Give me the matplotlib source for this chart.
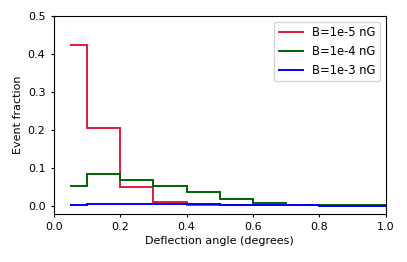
import matplotlib
matplotlib.use("Agg")
import matplotlib.pyplot as plt
import numpy as np

edges = [0.05, 0.1, 0.2, 0.3, 0.4, 0.5, 0.6, 0.7, 0.8, 0.9, 1.0]
red_vals = [0.425, 0.205, 0.050, 0.010, 0.002, 0.002, 0.003, 0.003, 0.004, 0.004]
green_vals = [0.052, 0.085, 0.068, 0.053, 0.036, 0.018, 0.009, 0.003, 0.002, 0.002]
blue_vals = [0.003, 0.005, 0.007, 0.006, 0.005, 0.003, 0.002, 0.002, 0.001, 0.001]
labels = ["B=1e-5 nG", "B=1e-4 nG", "B=1e-3 nG"]
colors = ["#e0193f", "#006400", "#0000ff"]

plt.rcParams['font.size'] = 8
fig = plt.figure(figsize=(4.07, 2.62), dpi=100)
ax = fig.add_axes([0.132, 0.184, 0.816, 0.755])
for vals, lab, c in zip([red_vals, green_vals, blue_vals], labels, colors):
    ax.stairs(vals, edges, color=c, linewidth=1.4, label=lab, baseline=None)
ax.set_xlim(0, 1.0)
ax.set_ylim(-0.02, 0.5)
ax.set_xticks([0.0, 0.2, 0.4, 0.6, 0.8, 1.0])
ax.set_yticks([0.0, 0.1, 0.2, 0.3, 0.4, 0.5])
ax.tick_params(length=2.5, width=0.8)
for s in ax.spines.values():
    s.set_linewidth(0.8)
ax.set_xlabel("Deflection angle (degrees)", labelpad=3)
ax.set_ylabel("Event fraction", labelpad=3)
ax.legend(loc="upper right", fontsize=8.3, handlelength=2.1)
fig.savefig("out.png", dpi=100)
